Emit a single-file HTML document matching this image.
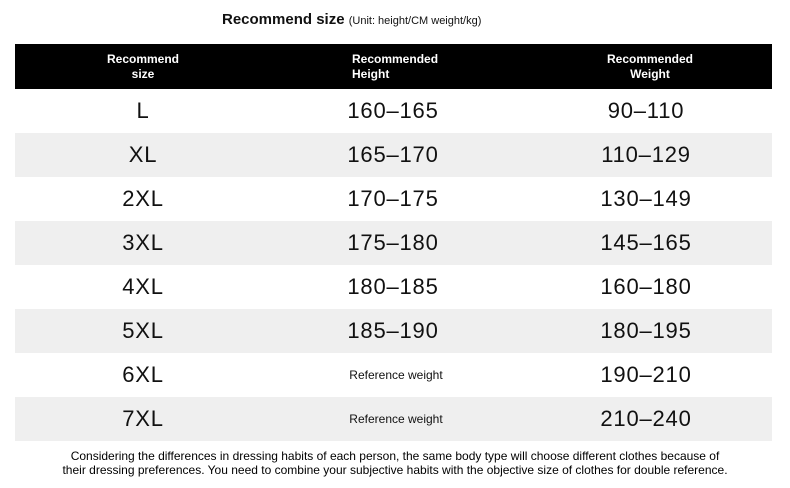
<!DOCTYPE html>
<html><head><meta charset="utf-8"><style>
body{margin:0;width:790px;height:488px;background:#fff;font-family:"Liberation Sans",sans-serif;color:#111;position:relative;overflow:hidden}
.t{position:absolute;left:222px;top:11px;font-size:15px;font-weight:bold;white-space:nowrap}
.t span{font-size:11px;font-weight:normal}
.hdr{position:absolute;left:15px;top:44px;width:757px;height:45px;background:#000;color:#fff;font-weight:bold;font-size:12px;line-height:15px}
.hdr div{position:absolute;top:8px}
.row{position:absolute;left:15px;width:757px;height:44px}
.g{background:#efefef}
.row div{position:absolute;top:0;line-height:44px;font-size:22px;letter-spacing:0.8px;transform:translateX(-50%);white-space:nowrap}
.row div.s{font-size:12px;letter-spacing:0}
.f{position:absolute;left:0;width:790px;top:449px;text-align:center;font-size:12px;line-height:14px;color:#000}
</style></head><body>
<div class="t">Recommend size <span>(Unit: height/CM weight/kg)</span></div>
<div class="hdr">
<div style="left:128px;transform:translateX(-50%);text-align:center">Recommend<br>size</div>
<div style="left:337px">Recommended<br>Height</div>
<div style="left:635px;transform:translateX(-50%);text-align:center">Recommended<br>Weight</div>
</div>
<div class="row" style="top:89px"><div style="left:128px">L</div><div style="left:378px">160–165</div><div style="left:631px">90–110</div></div>
<div class="row g" style="top:133px"><div style="left:128px">XL</div><div style="left:378px">165–170</div><div style="left:631px">110–129</div></div>
<div class="row" style="top:177px"><div style="left:128px">2XL</div><div style="left:378px">170–175</div><div style="left:631px">130–149</div></div>
<div class="row g" style="top:221px"><div style="left:128px">3XL</div><div style="left:378px">175–180</div><div style="left:631px">145–165</div></div>
<div class="row" style="top:265px"><div style="left:128px">4XL</div><div style="left:378px">180–185</div><div style="left:631px">160–180</div></div>
<div class="row g" style="top:309px"><div style="left:128px">5XL</div><div style="left:378px">185–190</div><div style="left:631px">180–195</div></div>
<div class="row" style="top:353px"><div style="left:128px">6XL</div><div class="s" style="left:381px">Reference weight</div><div style="left:631px">190–210</div></div>
<div class="row g" style="top:397px"><div style="left:128px">7XL</div><div class="s" style="left:381px">Reference weight</div><div style="left:631px">210–240</div></div>
<div class="f">Considering the differences in dressing habits of each person, the same body type will choose different clothes because of<br>their dressing preferences. You need to combine your subjective habits with the objective size of clothes for double reference.</div>
</body></html>
